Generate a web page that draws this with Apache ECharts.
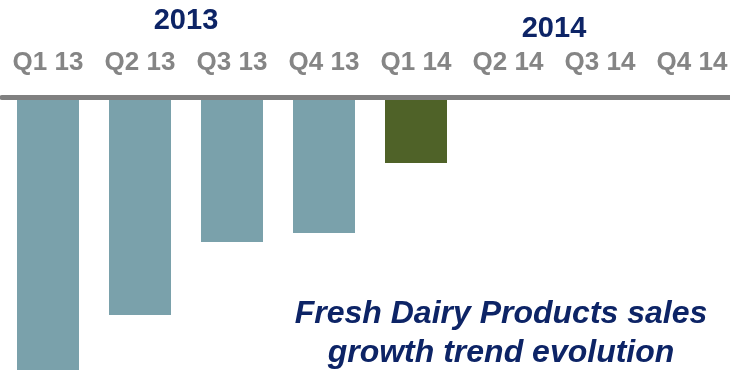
<!DOCTYPE html>
<html>
<head>
<meta charset="utf-8">
<script src="https://cdn.jsdelivr.net/npm/echarts@6/dist/echarts.min.js"></script>
<style>html,body{margin:0;padding:0;background:#fff}#c{width:730px;height:370px}</style>
</head>
<body>
<div id="c"></div>
<script>
const categories = ['Q1 13','Q2 13','Q3 13','Q4 13','Q1 14','Q2 14','Q3 14','Q4 14'];
const years = ['2013','2014'];
const growth = [-5.6, -4.36, -2.9, -2.72, -1.32, null, null, null];
const barColors = ['#7aa1ab','#7aa1ab','#7aa1ab','#7aa1ab','#4f6228','#7aa1ab','#7aa1ab','#7aa1ab'];
const titleText = 'Fresh Dairy Products sales\ngrowth trend evolution';

const chart = echarts.init(document.getElementById('c'));
chart.setOption({
  animation: false,
  title: {
    text: titleText,
    left: 496, top: 290, textAlign: 'center',
    textStyle: {fontFamily: 'Liberation Sans, Arial', fontStyle: 'italic', fontWeight: 'bold', fontSize: 32, color: '#0d2466', lineHeight: 39}
  },
  grid: {left: 2, right: -8, top: 97, height: 300, outerBoundsMode: 'none', containLabel: false},
  xAxis: [{
    type: 'category', data: categories, position: 'top', offset: 3,
    axisLine: {show: true, lineStyle: {color: '#808080', width: 5}},
    axisTick: {show: false},
    axisLabel: {interval: 0, hideOverlap: false, color: '#858585', fontFamily: 'Liberation Sans, Arial', fontWeight: 'bold', fontSize: 26, margin: 18},
    z: 5
  }, {
    type: 'category', data: years, position: 'top', offset: 3,
    axisLine: {show: false}, axisTick: {show: false},
    axisLabel: {
      interval: 0,
      margin: 51,
      formatter: function (v) { return v === '2013' ? '{a|' + v + '}' : '{b|' + v + '}'; },
      rich: {
        a: {color: '#0d2466', fontFamily: 'Liberation Sans, Arial', fontWeight: 'bold', fontSize: 29, padding: [0,0,8,0]},
        b: {color: '#0d2466', fontFamily: 'Liberation Sans, Arial', fontWeight: 'bold', fontSize: 29, padding: [0,0,0,0]}
      }
    }
  }],
  yAxis: {type: 'value', min: -6, max: 0, show: false},
  series: [{
    type: 'bar', xAxisIndex: 0, barWidth: 62,
    data: growth.map((v, i) => ({value: v, itemStyle: {color: barColors[i]}}))
  }]
});
</script>
</body>
</html>
